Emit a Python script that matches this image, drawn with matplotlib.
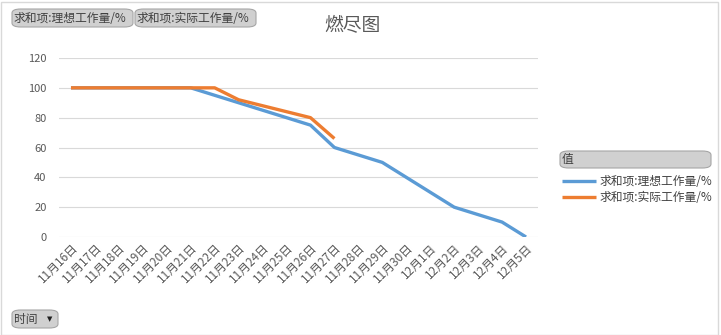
import matplotlib
matplotlib.use("Agg")
import matplotlib.pyplot as plt
from matplotlib.patches import FancyBboxPatch, Rectangle
import numpy as np

plt.rcParams['font.family'] = ['Noto Sans CJK SC', 'DejaVu Sans']

dates = ["11月16日", "11月17日", "11月18日", "11月19日", "11月20日", "11月21日",
         "11月22日", "11月23日", "11月24日", "11月25日", "11月26日", "11月27日",
         "11月28日", "11月29日", "11月30日", "12月1日", "12月2日", "12月3日",
         "12月4日", "12月5日"]
ideal = [100, 100, 100, 100, 100, 100, 95, 90, 85, 80, 75, 60,
         55, 50, 40, 30, 20, 15, 10, 0]
actual = [100, 100, 100, 100, 100, 100, 100, 92, 88, 84, 80, 66]

name_ideal = "求和项:理想工作量/%"
name_actual = "求和项:实际工作量/%"

W, H = 721, 335
fig = plt.figure(figsize=(W / 100, H / 100), dpi=100)

# outer chart border
fig.patches.append(Rectangle((1 / W, 0), 717 / W, 333 / H, transform=fig.transFigure,
                             fill=False, ec="#d9d9d9", lw=1))

ax = fig.add_axes([59 / W, (H - 237) / H, 479 / W, 179 / H])
x = np.arange(len(dates))
ax.plot(x, ideal, color="#5b9bd5", lw=2.4, label=name_ideal, solid_capstyle="butt")
ax.plot(x[:len(actual)], actual, color="#ed7d31", lw=2.4, label=name_actual,
        solid_capstyle="butt")

ax.set_xlim(-0.5, len(dates) - 0.5)
ax.set_ylim(0, 120)
ax.set_yticks(range(0, 121, 20))
ax.set_xticks(x)
ax.set_xticklabels(dates, rotation=45, ha="right", rotation_mode="anchor",
                   fontsize=8.5, color="#595959")
ax.tick_params(axis="y", labelsize=8, labelcolor="#595959", length=0, pad=9)
ax.tick_params(axis="x", length=0, pad=3)
ax.grid(axis="y", color="#d9d9d9", lw=0.8)
ax.set_axisbelow(True)
for s in ax.spines.values():
    s.set_visible(False)

fig.text(352 / W, 1 - 26 / H, "燃尽图", ha="center", va="center",
         fontsize=13.5, color="#595959")


def button(x0, y0, w, h, label, arrow=False):
    box = FancyBboxPatch((x0 / W, 1 - (y0 + h) / H), w / W, h / H,
                         boxstyle="round,pad=0,rounding_size=0.012",
                         transform=fig.transFigure, fc="#d0d0d0", ec="#a6a6a6", lw=0.8)
    fig.patches.append(box)
    fig.text((x0 + 2) / W, 1 - (y0 + h / 2) / H, label, ha="left", va="center",
             fontsize=8.5, color="#404040")
    if arrow:
        fig.text((x0 + w - 8) / W, 1 - (y0 + h / 2) / H, "▼", ha="center",
                 va="center", fontsize=5, color="#202020", family="DejaVu Sans")


button(12, 9, 121, 18, name_ideal)
button(135, 9, 121, 18, name_actual)
button(12, 310, 46, 18, "时间", arrow=True)
button(560, 151, 151, 17, "值")

leg = fig.legend(loc="upper left", bbox_to_anchor=(557 / W, 1 - 170 / H),
                 frameon=False, fontsize=8.5, handlelength=2.9, handletextpad=0.3,
                 labelspacing=0.3, borderaxespad=0)
for t in leg.get_texts():
    t.set_color("#404040")

fig.savefig("out.png", dpi=100)
